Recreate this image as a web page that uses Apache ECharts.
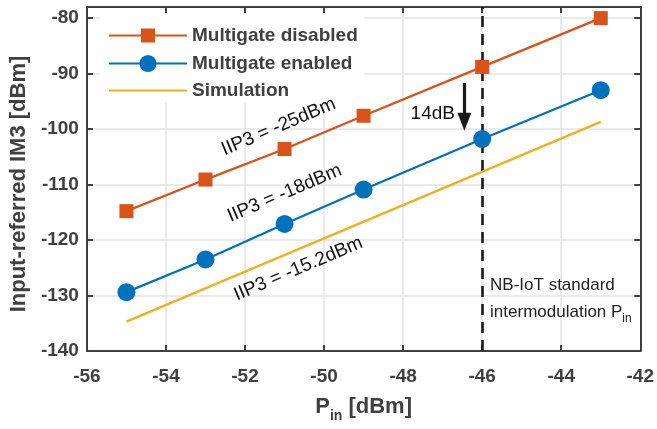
<!DOCTYPE html>
<html>
<head>
<meta charset="utf-8">
<script src="https://cdn.jsdelivr.net/npm/echarts@6/dist/echarts.min.js"></script>
<style>
  html, body { margin: 0; padding: 0; background: #fff; }
  #chart { width: 657px; height: 429px; }
</style>
</head>
<body>
<div id="chart"></div>
<script>
// input power [dBm]
const pin = [-55, -53, -51, -49, -46, -43];
const im3Disabled = [-114.8, -109.1, -103.6, -97.6, -88.8, -80.0];
const im3Enabled = [-129.4, -123.5, -117.1, -110.9, -101.8, -93.0];
const simPin = [-55, -43];
const im3Sim = [-134.7, -98.7];
const nbIotPin = -46;

const FONT = "'Liberation Sans Narrow', 'Arial Narrow', 'Liberation Sans', sans-serif";
const AX = "#404040";

const chart = echarts.init(document.getElementById("chart"));

const zip = (xs, ys) => xs.map((x, i) => [x, ys[i]]);

const xBase = {
  type: "value", min: -56, max: -42, interval: 2,
  axisLine: { show: true, lineStyle: { color: AX, width: 2 } },
  axisTick: { show: true, inside: true, length: 6, lineStyle: { color: AX, width: 2 } },
  splitLine: { show: false }
};
const yBase = {
  type: "value", min: -140, max: -78, interval: 10,
  axisLine: { show: true, lineStyle: { color: AX, width: 2 } },
  axisTick: { show: true, inside: true, length: 6, lineStyle: { color: AX, width: 2 } },
  splitLine: { show: false }
};

const legendText = { fontFamily: FONT, fontSize: 19, fontWeight: "bold", color: AX };
const legendOne = (name, top, itemHeight, extra) => Object.assign({
  left: 108, top: top, padding: 0,
  itemWidth: 78, itemHeight: itemHeight,
  textStyle: legendText,
  selectedMode: false,
  data: [name]
}, extra || {});

const option = {
  animation: false,
  backgroundColor: "#fff",
  grid: { left: 86, right: 13, top: 7, bottom: 78 },
  legend: [
    legendOne("Multigate disabled", 26, 17.5),
    legendOne("Multigate enabled", 54, 21.5),
    legendOne("Simulation", 81, 17, {
      data: [{ name: "Simulation", itemStyle: { opacity: 0 } }]
    })
  ],
  xAxis: [
    Object.assign({}, xBase, {
      position: "bottom",
      name: "{p|P}{sub|in}{p| [dBm]}",
      nameLocation: "middle", nameGap: 40,
      nameTextStyle: {
        rich: {
          p: { fontFamily: FONT, fontSize: 22, fontWeight: "bold", color: AX },
          sub: { fontFamily: FONT, fontSize: 14, fontWeight: "bold", color: AX, padding: [18, 0, 0, 0] }
        }
      },
      axisLabel: { fontFamily: FONT, fontSize: 19, fontWeight: "bold", color: AX, margin: 16 },
      splitLine: { show: true, lineStyle: { color: "#e3e3e3", width: 1.5 } }
    }),
    Object.assign({}, xBase, { position: "top", axisLabel: { show: false } })
  ],
  yAxis: [
    Object.assign({}, yBase, {
      position: "left",
      name: "Input-referred IM3 [dBm]",
      nameLocation: "middle", nameGap: 49,
      nameTextStyle: { fontFamily: FONT, fontSize: 22, fontWeight: "bold", color: AX, padding: [0, 10, 0, 0] },
      axisLabel: { fontFamily: FONT, fontSize: 19, fontWeight: "bold", color: AX, margin: 8, showMaxLabel: false },
      splitLine: { show: true, lineStyle: { color: "#e3e3e3", width: 1.5 } }
    }),
    Object.assign({}, yBase, { position: "right", axisLabel: { show: false } })
  ],
  series: [
    {
      name: "Simulation", type: "line",
      data: zip(simPin, im3Sim),
      symbol: "none",
      lineStyle: { color: "#EDB120", width: 2.3 },
      itemStyle: { color: "#EDB120" },
      z: 3
    },
    {
      name: "Multigate disabled", type: "line",
      data: zip(pin, im3Disabled),
      symbol: "rect", symbolSize: 14,
      lineStyle: { color: "#D95319", width: 2.3 },
      itemStyle: { color: "#D95319" },
      z: 4
    },
    {
      name: "Multigate enabled", type: "line",
      data: zip(pin, im3Enabled),
      symbol: "circle", symbolSize: 18,
      lineStyle: { color: "#0072BD", width: 2.3 },
      itemStyle: { color: "#0072BD" },
      z: 5,
      markLine: {
        silent: true,
        symbol: ["none", "none"],
        label: { show: false },
        lineStyle: { color: "#1a1a1a", width: 2.6, type: [11, 7] },
        data: [{ xAxis: nbIotPin }],
        z: 2
      }
    },
    {
      // 14dB arrow
      name: "arrow", type: "line",
      data: [],
      markLine: {
        silent: true,
        symbol: ["none", "triangle"],
        symbolSize: [14, 18],
        label: { show: false },
        lineStyle: { color: "#1a1a1a", width: 3.2, type: "solid" },
        data: [[{ coord: [-46.45, -91.7] }, { coord: [-46.45, -98.7] }]]
      }
    }
  ]
};

chart.setOption(option);

// annotation texts, placed in data coordinates
const notes = [
  { x: -51.15, y: -99.6, text: "IIP3 = -25dBm", rot: 23 },
  { x: -51.0, y: -111.6, text: "IIP3 = -18dBm", rot: 23 },
  { x: -50.65, y: -125.2, text: "IIP3 = -15.2dBm", rot: 23 }
];
const px = (x, y) => chart.convertToPixel({ gridIndex: 0 }, [x, y]);

const graphics = [];
// white legend box over the grid lines
const b0 = px(-55.67, -79.2), b1 = px(-49.0, -95.2);
graphics.push({
  type: "rect", z: 1,
  shape: { x: b0[0], y: b0[1], width: b1[0] - b0[0], height: b1[1] - b0[1] },
  style: { fill: "#fff" }
});

notes.forEach(n => {
  const p = px(n.x, n.y);
  graphics.push({
    type: "text", x: p[0], y: p[1], rotation: n.rot * Math.PI / 180, z: 10,
    style: { text: n.text, fontFamily: FONT, fontSize: 19, fill: "#111",
             textAlign: "center", textVerticalAlign: "middle" }
  });
});

const p14 = px(-47.25, -97.3);
graphics.push({
  type: "text", x: p14[0], y: p14[1], z: 10,
  style: { text: "14dB", fontFamily: FONT, fontSize: 19, fill: "#111",
           textAlign: "center", textVerticalAlign: "middle" }
});

const pNb = px(-45.8, -128.2);
graphics.push({
  type: "text", x: pNb[0], y: pNb[1] - 14, z: 10,
  style: {
    text: "{t|NB-IoT standard}\n{t|intermodulation P}{s|in}",
    rich: {
      t: { fontFamily: FONT, fontSize: 17, fill: "#222", lineHeight: 27 },
      s: { fontFamily: FONT, fontSize: 12, fill: "#222", padding: [13, 0, 0, 0], lineHeight: 27 }
    },
    textAlign: "left", textVerticalAlign: "top"
  }
});

chart.setOption({ graphic: graphics });
</script>
</body>
</html>
